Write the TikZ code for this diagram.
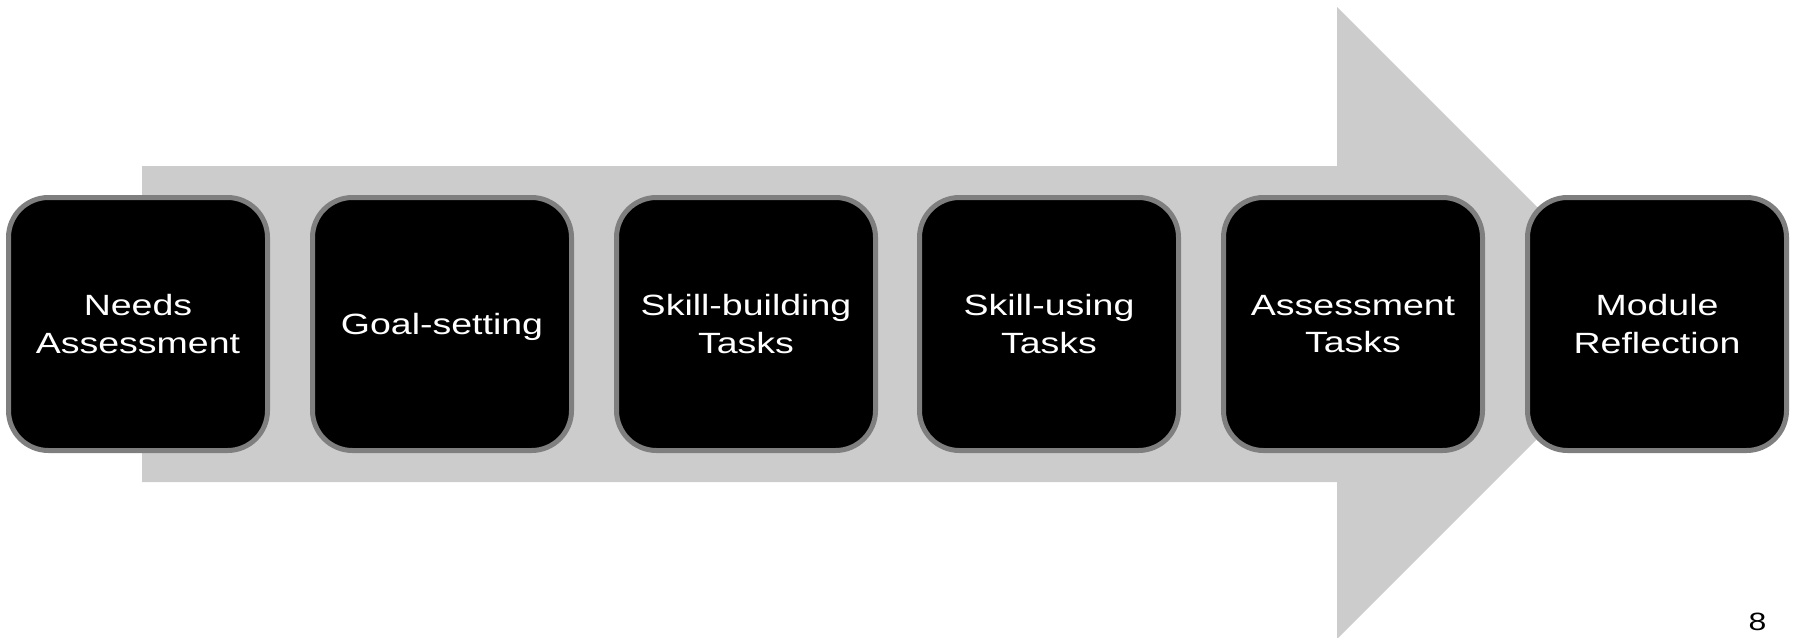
\documentclass[tikz,border=0pt]{standalone}
\usepackage{fontspec}
\newfontfamily\boxfont[FakeStretch=1.28]{Liberation Sans}
\definecolor{arrowgray}{HTML}{CCCCCC}
\definecolor{bordergray}{HTML}{7F7F7F}
\begin{document}
\begin{tikzpicture}[x=1pt,y=-1pt,
  stepbox/.style={draw=bordergray, line width=5pt, fill=black, rounded corners=40pt,
    minimum width=259pt, minimum height=253pt, inner sep=0pt, align=center,
    text=white, font=\boxfont\fontsize{29.3}{37.3}\selectfont, text depth=0pt},
  pagestyle/.style={inner sep=0pt, font=\boxfont\fontsize{25}{30}\selectfont, text=black}]
\useasboundingbox (0,0) rectangle (1795,637);
% big background arrow
\fill[arrowgray] (142,166) -- (1337,166) -- (1337,7) -- (1653,323) -- (1337,639)
  -- (1337,482) -- (142,482) -- cycle;
% steps
\node[stepbox] (n1) at (138,324) {Needs\\Assessment};
\node[stepbox] (n2) at (442,324) {Goal-setting};
\node[stepbox] (n3) at (746,324) {Skill-building\\Tasks};
\node[stepbox] (n4) at (1049,324) {Skill-using\\Tasks};
\node[stepbox] (n5) at (1353,324) {Assessment\\Tasks};
\node[stepbox] (n6) at (1657,324) {Module\\Reflection};
% page number
\node[pagestyle, anchor=north] (pagenum) at (1757.5,613) {8};
\end{tikzpicture}
\end{document}
